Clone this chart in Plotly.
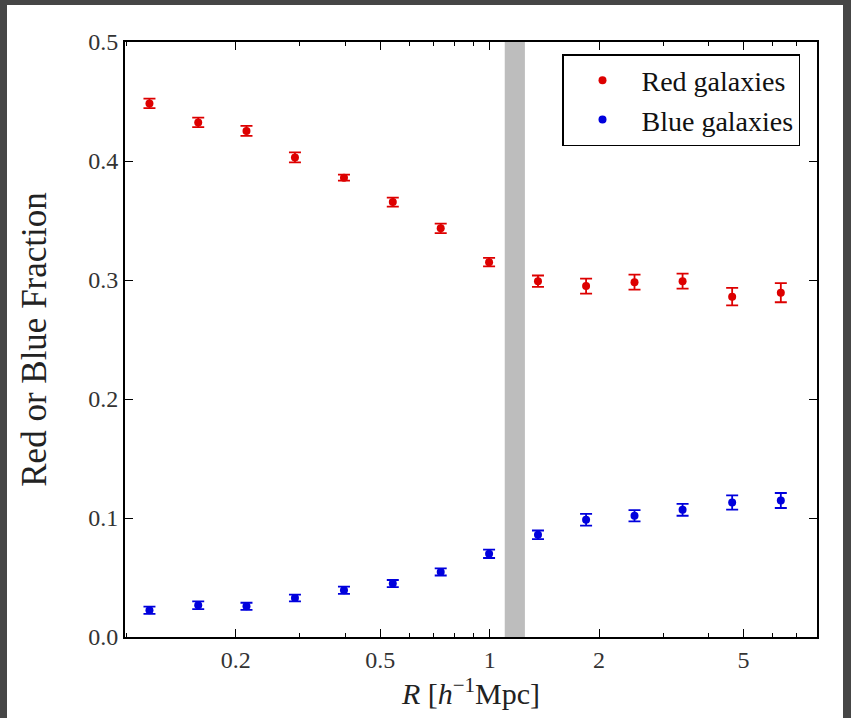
import plotly.graph_objects as go

# ---- data ----
radius = [0.1157, 0.1576, 0.214, 0.291, 0.397, 0.541, 0.733, 0.996,
          1.358, 1.842, 2.504, 3.396, 4.65, 6.33]
red_frac = [0.4484, 0.4324, 0.4253, 0.4030, 0.3860, 0.3655, 0.3434, 0.3150,
            0.2990, 0.2949, 0.2982, 0.2990, 0.2860, 0.2893]
red_err = [0.0040, 0.0040, 0.0042, 0.0042, 0.0025, 0.0038, 0.0040, 0.0036,
           0.0048, 0.0063, 0.0063, 0.0063, 0.0073, 0.0080]
blue_frac = [0.0225, 0.0267, 0.0258, 0.0328, 0.0393, 0.0449, 0.0547, 0.0699,
             0.0859, 0.0985, 0.1019, 0.1069, 0.1130, 0.1147]
blue_err = [0.0030, 0.0032, 0.0030, 0.0028, 0.0030, 0.0030, 0.0030, 0.0035,
            0.0036, 0.0049, 0.0048, 0.0050, 0.0060, 0.0063]
band_range = [1.10, 1.25]
x_major_ticks = [0.2, 0.5, 1, 2, 5]
x_major_labels = ["0.2", "0.5", "1", "2", "5"]
x_minor_ticks = [0.1, 0.3, 0.4, 0.6, 0.7, 0.8, 0.9, 3, 4, 6, 7, 8]
y_ticks = [0.0, 0.1, 0.2, 0.3, 0.4, 0.5]

RED = "#dd0000"
BLUE = "#0000dd"
FONT = "Liberation Serif"

fig = go.Figure()
fig.add_trace(go.Scatter(
    x=radius, y=red_frac, mode="markers", name="Red galaxies",
    marker=dict(color=RED, size=8),
    error_y=dict(type="data", array=red_err, color=RED, thickness=1.8, width=6),
))
fig.add_trace(go.Scatter(
    x=radius, y=blue_frac, mode="markers", name="Blue galaxies",
    marker=dict(color=BLUE, size=8),
    error_y=dict(type="data", array=blue_err, color=BLUE, thickness=1.8, width=6),
))

W, H = 851, 718
L, R, T, B = 125, 34, 42, 81
pw, ph = W - L - R, H - T - B

def px_x(p):
    return (p - L) / pw

def px_y(p):
    return (H - B - p) / ph

shapes = [
    dict(type="rect", xref="x", yref="paper", x0=band_range[0], x1=band_range[1],
         y0=0, y1=1, fillcolor="#bdbdbd", line=dict(width=0), layer="below"),
    # dark frame of the screenshot
    dict(type="rect", xref="paper", yref="paper", x0=px_x(0), x1=px_x(7),
         y0=px_y(H), y1=px_y(0), fillcolor="#464646", line=dict(width=0)),
    dict(type="rect", xref="paper", yref="paper", x0=px_x(0), x1=px_x(W),
         y0=px_y(5), y1=px_y(0), fillcolor="#464646", line=dict(width=0)),
    dict(type="rect", xref="paper", yref="paper", x0=px_x(843), x1=px_x(W),
         y0=px_y(H), y1=px_y(0), fillcolor="#464646", line=dict(width=0)),
]

fig.update_layout(
    width=W, height=H,
    margin=dict(l=L, r=R, t=T, b=B),
    paper_bgcolor="white", plot_bgcolor="white",
    font=dict(family=FONT, color="#222222"),
    shapes=shapes,
    showlegend=True,
    legend=dict(
        x=px_x(562), y=px_y(54), xanchor="left", yanchor="top",
        bordercolor="black", borderwidth=1.5, bgcolor="white",
        font=dict(family=FONT, size=28, color="#111111"),
        itemwidth=68, tracegroupgap=0,
    ),
    xaxis=dict(
        type="log", range=[-1.004, 0.901],
        tickmode="array", tickvals=x_major_ticks, ticktext=x_major_labels,
        ticks="inside", ticklen=8, tickwidth=1.3, tickcolor="black",
        minor=dict(tickmode="array", tickvals=x_minor_ticks, ticks="inside",
                   ticklen=4, tickwidth=1.2, tickcolor="black"),
        showline=True, linecolor="black", linewidth=1.8, mirror="ticks",
        showgrid=False, zeroline=False,
        tickfont=dict(family=FONT, size=24, color="#333333"),
        title=dict(text="<i>R</i> [<i>h</i><sup>−1</sup>Mpc]",
                   font=dict(family=FONT, size=30, color="#222222"), standoff=10),
    ),
    yaxis=dict(
        range=[0, 0.5],
        tickmode="array", tickvals=y_ticks,
        ticktext=[f"{v:.1f}" for v in y_ticks],
        ticks="inside", ticklen=8, tickwidth=1.3, tickcolor="black",
        showline=True, linecolor="black", linewidth=1.8, mirror="ticks",
        showgrid=False, zeroline=False,
        tickfont=dict(family=FONT, size=24, color="#333333"),
        title=dict(text="Red or Blue Fraction",
                   font=dict(family=FONT, size=35, color="#222222"), standoff=31),
    ),
)

fig.write_html("out.html",
               config={"displayModeBar": False},
               post_script="document.body.style.margin='0';document.body.style.overflow='hidden';")
